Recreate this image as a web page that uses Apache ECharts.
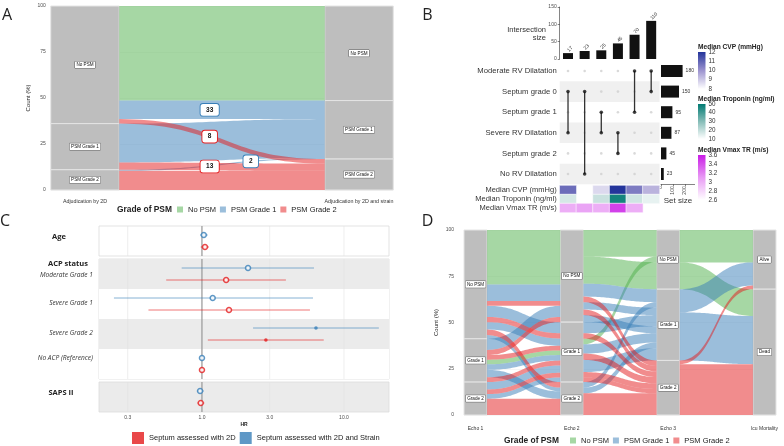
<!DOCTYPE html>
<html><head><meta charset="utf-8"><title>PSM figure</title>
<script src="https://cdn.jsdelivr.net/npm/echarts@6/dist/echarts.min.js"></script>
<style>html,body{margin:0;padding:0;background:#fff;}#chart{width:784px;height:446px;}</style>
</head><body><div id="chart"></div>
<script>
// ===================== DATA =====================
const GRADES = ['No PSM', 'PSM Grade 1', 'PSM Grade 2'];

// ---- Panel A : alluvial, counts per flow ----
const A_AXES = ['Adjudication by 2D', 'Adjudication by 2D and strain'];
const A_STRATA = [['No PSM', 'PSM Grade 1', 'PSM Grade 2'], ['No PSM', 'PSM Grade 1', 'PSM Grade 2']];
const A_FROM = [0, 0, 0, 1, 1, 2, 2];
const A_TO = [0, 1, 2, 1, 2, 1, 2];
const A_COUNT = [168, 33, 8, 69, 13, 2, 34];
const A_GRADE = [0, 1, 2, 1, 2, 1, 2];
const A_LABELLED = [1, 2, 4, 5];

// ---- Panel B : UpSet ----
const B_SETS = ['Moderate RV Dilatation', 'Septum grade 0', 'Septum grade 1', 'Severe RV Dilatation', 'Septum grade 2', 'No RV Dilatation'];
const B_SET_SIZE = [180, 150, 95, 87, 45, 23];
const B_INTER_MEMBERS = [[1, 3], [1, 5], [2, 3], [3, 4], [0, 2], [0, 1]];
const B_INTER_SIZE = [17, 23, 25, 45, 70, 110];
const B_ANNOT_ROWS = ['Median CVP (mmHg)', 'Median Troponin (ng/ml)', 'Median Vmax TR (m/s)'];
const B_CVP = [10.8, null, 8.7, 12.0, 10.5, 9.4];
const B_TROP = [17, null, 19, 47, 18, 14];
const B_VMAX = [3.0, 3.05, 3.0, 3.45, 3.0, null];
const B_CVP_TICKS = [8, 9, 10, 11, 12];
const B_TROP_TICKS = [10, 20, 30, 40, 50];
const B_VMAX_TICKS = [2.6, 2.8, 3.0, 3.2, 3.4, 3.6];
const B_VMAX_TICK_LABELS = ['2.6', '2.8', '3', '3.2', '3.4', '3.6'];

// ---- Panel C : forest plot (hazard ratios) ----
const C_ROWS = ['Age', 'Moderate Grade 1', 'Severe Grade 1', 'Severe Grade 2', 'No ACP (Reference)', 'SAPS II'];
const C_HEADERS = ['Age', 'ACP status', 'SAPS II'];
const C_PANEL = [0, 1, 1, 1, 1, 2];
const C_ROW_IN_PANEL = [0, 0, 1, 2, 3, 0];
const C_HR_2D = [1.05, 1.48, 1.55, 2.82, 1.00, 0.98];
const C_LO_2D = [0.98, 0.56, 0.42, 1.10, 1.00, 0.93];
const C_HI_2D = [1.12, 3.90, 5.76, 7.20, 1.00, 1.04];
const C_HR_ST = [1.03, 2.11, 1.19, 6.35, 1.00, 0.97];
const C_LO_ST = [0.97, 0.72, 0.24, 2.29, 1.00, 0.92];
const C_HI_ST = [1.10, 6.15, 6.05, 17.6, 1.00, 1.03];
const C_SIG = [false, false, false, true, false, false];
const C_TICKS = [0.3, 1, 3, 10];
const C_TICK_LABELS = ['0.3', '1.0', '3.0', '10.0'];
const C_GROUPS = ['Septum assessed with 2D', 'Septum assessed with 2D and Strain'];

// ---- Panel D : alluvial, % per flow ----
const D_AXES = ['Echo 1', 'Echo 2', 'Echo 3', 'Icu Mortality'];
const D_STRATA = [['No PSM', 'Grade 1', 'Grade 2'], ['No PSM', 'Grade 1', 'Grade 2'], ['No PSM', 'Grade 1', 'Grade 2'], ['Alive', 'Dead']];
const D1_FROM = [0, 0, 0, 0, 0, 0, 0, 0, 1, 1, 1, 1, 1, 1, 1, 2, 2, 2, 2];
const D1_TO = [0, 0, 0, 1, 1, 1, 2, 2, 0, 0, 1, 1, 1, 2, 1, 1, 1, 1, 2];
const D1_VAL = [29.4, 9.0, 2.6, 6.0, 2.8, 4.0, 3.0, 2.0, 6.0, 2.8, 2.5, 2.5, 3.0, 4.0, 2.6, 4.0, 2.5, 2.5, 8.8];
const D1_GRADE = [0, 1, 2, 1, 2, 1, 2, 1, 1, 2, 2, 0, 1, 1, 2, 1, 2, 1, 2];
const D2_FROM = [0, 0, 0, 0, 0, 0, 0, 1, 1, 1, 1, 1, 1, 1, 1, 2, 2, 2];
const D2_TO = [0, 0, 1, 2, 1, 2, 1, 1, 2, 0, 1, 2, 1, 2, 2, 1, 1, 2];
const D2_VAL = [14.4, 14.6, 7.0, 3.0, 4.0, 3.0, 3.8, 6.0, 3.0, 3.0, 5.0, 3.4, 6.6, 3.0, 2.4, 3.0, 3.1, 11.7];
const D2_GRADE = [0, 0, 1, 2, 1, 2, 1, 1, 2, 0, 1, 2, 1, 2, 2, 1, 1, 2];
const D2_RIGHT_ORDER = [0, 9, 1, 2, 15, 4, 7, 6, 10, 16, 12, 3, 5, 8, 11, 13, 14, 17];
const D3_FROM = [0, 0, 1, 1, 2, 2];
const D3_TO = [0, 1, 0, 1, 0, 1];
const D3_VAL = [17.5, 14.5, 12.5, 26.0, 2.0, 27.5];
const D3_GRADE = [0, 0, 1, 1, 2, 2];

// ===================== STYLE / LAYOUT =====================
const F = 'Liberation Sans, Arial, sans-serif';
const F2 = 'Open Sans, Liberation Sans, sans-serif';
const SET1 = ['#4daf4a', '#377eb8', '#e41a1c'];
const FILL = ['rgba(77,175,74,0.5)', 'rgba(55,126,184,0.5)', 'rgba(228,26,28,0.5)'];
const A_STRAT_W = 0.25, D_STRAT_W = 0.24;
const A_LABEL_T = [0.44, 0.44, 0.44, 0.64];

const bx = s => 1.5 * s * (1 - s) + s * s * s;
const by = s => 3 * s * s - 2 * s * s * s;
function solveS(t) { let lo = 0, hi = 1; for (let i = 0; i < 40; i++) { const m = (lo + hi) / 2; if (bx(m) < t) lo = m; else hi = m; } return (lo + hi) / 2; }

function alluvial(segs, nStrata) {
  const total = segs[0].val.reduce((a, b) => a + b, 0);
  const K = segs.length + 1;
  const sizes = [];
  for (let k = 0; k < K; k++) {
    const sz = new Array(nStrata[k]).fill(0);
    if (k < K - 1) segs[k].from.forEach((s, i) => sz[s] += segs[k].val[i]);
    else segs[k - 1].to.forEach((s, i) => sz[s] += segs[k - 1].val[i]);
    sizes.push(sz.map(v => v / total * 100));
  }
  const tops = sizes.map(sz => { let c = 100; return sz.map(v => { const t = c; c -= v; return t; }); });
  const flows = [];
  segs.forEach((seg, k) => {
    const n = seg.val.length;
    const pos = seg.val.map(() => ({}));
    const curL = tops[k].slice();
    for (let i = 0; i < n; i++) { const p = seg.val[i] / total * 100; pos[i].t0 = curL[seg.from[i]]; pos[i].b0 = pos[i].t0 - p; curL[seg.from[i]] -= p; }
    const curR = tops[k + 1].slice();
    const order = seg.order || seg.val.map((_, i) => i);
    order.forEach(i => { const p = seg.val[i] / total * 100; pos[i].t1 = curR[seg.to[i]]; pos[i].b1 = pos[i].t1 - p; curR[seg.to[i]] -= p; });
    for (let i = 0; i < n; i++) flows.push({ seg: k, idx: i, grade: seg.grade[i], value: [k, k + 1, pos[i].t0, pos[i].b0, pos[i].t1, pos[i].b1] });
  });
  const strata = [];
  sizes.forEach((sz, k) => sz.forEach((v, s) => strata.push({ k, s, value: [k, tops[k][s] - v, tops[k][s]] })));
  return { flows, strata };
}

function flowSeries(flows, grade, axi, w) {
  return {
    type: 'custom', name: GRADES[grade], xAxisIndex: axi, yAxisIndex: axi, z: 3, silent: true,
    itemStyle: { color: FILL[grade] },
    data: flows.filter(f => f.grade === grade).map(f => f.value),
    renderItem: (params, api) => {
      const x0 = api.value(0) + w / 2, x1 = api.value(1) - w / 2;
      const A = api.coord([x0, api.value(2)]), B = api.coord([x1, api.value(4)]);
      const C = api.coord([x1, api.value(5)]), D = api.coord([x0, api.value(3)]);
      const pts = [], N = 40;
      for (let i = 0; i <= N; i++) { const s = i / N; pts.push([A[0] + (B[0] - A[0]) * bx(s), A[1] + (B[1] - A[1]) * by(s)]); }
      for (let i = N; i >= 0; i--) { const s = i / N; pts.push([D[0] + (C[0] - D[0]) * bx(s), D[1] + (C[1] - D[1]) * by(s)]); }
      return { type: 'polygon', shape: { points: pts }, style: { fill: FILL[grade] } };
    }
  };
}

function strataSeries(strata, names, axi, w) {
  return {
    type: 'custom', xAxisIndex: axi, yAxisIndex: axi, z: 2, silent: true,
    data: strata.map(s => s.value),
    renderItem: (params, api) => {
      const st = strata[params.dataIndex];
      const k = api.value(0), lo = api.value(1), hi = api.value(2);
      const p0 = api.coord([k - w / 2, hi]), p1 = api.coord([k + w / 2, lo]);
      return {
        type: 'group', children: [
          { type: 'rect', shape: { x: p0[0], y: p0[1], width: p1[0] - p0[0], height: p1[1] - p0[1] }, style: { fill: '#bebebe', stroke: '#e4e4e4', lineWidth: 1 } },
          { type: 'text', x: (p0[0] + p1[0]) / 2, y: (p0[1] + p1[1]) / 2, style: { text: names[st.k][st.s], font: '4.6px ' + F, fill: '#111', align: 'center', verticalAlign: 'middle', backgroundColor: '#fff', borderColor: '#444', borderWidth: 0.4, padding: [0.8, 1.5] } }
        ]
      };
    }
  };
}

// ---- build A ----
const aRes = alluvial([{ from: A_FROM, to: A_TO, val: A_COUNT, grade: A_GRADE }], [3, 3]);
const aLabels = A_LABELLED.map((fi, j) => {
  const f = aRes.flows[fi].value;
  const x0 = f[0] + A_STRAT_W / 2, x1 = f[1] - A_STRAT_W / 2;
  const t = A_LABEL_T[j];
  const s = solveS(t);
  const c0 = (f[2] + f[3]) / 2, c1 = (f[4] + f[5]) / 2;
  return [x0 + t * (x1 - x0), c0 + by(s) * (c1 - c0)];
});

// ---- build D ----
const dRes = alluvial([
  { from: D1_FROM, to: D1_TO, val: D1_VAL, grade: D1_GRADE },
  { from: D2_FROM, to: D2_TO, val: D2_VAL, grade: D2_GRADE, order: D2_RIGHT_ORDER },
  { from: D3_FROM, to: D3_TO, val: D3_VAL, grade: D3_GRADE }
], [3, 3, 3, 2]);

// ===================== OPTION =====================
const grids = [
  { left: 50.75, top: 6, width: 342.5, height: 184 },                 // 0 A
  { left: 559.7, top: 7, width: 99.8, height: 52 },                   // 1 B bars
  { left: 559.7, top: 60.7, width: 99.8, height: 123.6 },             // 2 B matrix
  { left: 661, top: 60.7, width: 33.6, height: 123.6 },               // 3 B set size
  { left: 559.7, top: 185.5, width: 99.8, height: 27 },               // 4 B annotation heatmap
  { left: 99, top: 226, width: 290, height: 30, show: true, backgroundColor: '#fff', borderColor: '#dcdcdc', borderWidth: 0.8 },   // 5 C age
  { left: 99, top: 259, width: 290, height: 120, show: true, backgroundColor: '#fff', borderColor: '#dcdcdc', borderWidth: 0.8 },  // 6 C ACP
  { left: 99, top: 382, width: 290, height: 30, show: true, backgroundColor: '#ebebeb', borderColor: '#dcdcdc', borderWidth: 0.8 }, // 7 C SAPS
  { left: 464, top: 230, width: 312, height: 185 }                    // 8 D
];

const tickLbl = { fontSize: 5, color: '#4d4d4d', fontFamily: F };
const hidden = { show: false };
const cols = B_INTER_SIZE.map((_, i) => 'I' + (i + 1));
const CMIN = -0.725, CMAX = 1.317;
const cPanelRows = [1, 4, 1];

const xAxes = [
  { gridIndex: 0, type: 'value', min: -0.125, max: 1.125, axisLine: hidden, axisTick: hidden, splitLine: hidden,
    axisLabel: { customValues: [0, 1], formatter: v => (Math.abs(v - Math.round(v)) < 1e-6 ? (A_AXES[Math.round(v)] || '') : ''), fontSize: 5.3, color: '#333', fontFamily: F, margin: 9 } },
  { gridIndex: 1, type: 'category', data: cols, show: false },
  { gridIndex: 2, type: 'category', data: cols, show: false },
  { gridIndex: 3, type: 'value', min: 0, max: 280, axisLine: { show: true, lineStyle: { color: '#333', width: 0.6 } },
    axisTick: { show: true, length: 2, customValues: [0, 100, 200], lineStyle: { color: '#333', width: 0.6 } }, splitLine: hidden,
    axisLabel: { customValues: [0, 100, 200], rotate: 90, fontSize: 5, color: '#4d4d4d', fontFamily: F, margin: 2 } },
  { gridIndex: 4, type: 'category', data: cols, show: false },
  { gridIndex: 5, type: 'value', min: CMIN, max: CMAX, show: false },
  { gridIndex: 6, type: 'value', min: CMIN, max: CMAX, show: false },
  { gridIndex: 7, type: 'value', min: CMIN, max: CMAX, axisLine: hidden, axisTick: hidden, splitLine: hidden,
    name: 'HR', nameLocation: 'middle', nameGap: 10, nameTextStyle: { fontSize: 5, fontWeight: 'bold', color: '#222', fontFamily: F },
    axisLabel: { customValues: C_TICKS.map(v => Math.log10(v)), formatter: v => { const i = C_TICKS.findIndex(t => Math.abs(Math.log10(t) - v) < 1e-6); return i >= 0 ? C_TICK_LABELS[i] : ''; }, fontSize: 5, color: '#4d4d4d', fontFamily: F, margin: 3 } },
  { gridIndex: 8, type: 'value', min: -0.12, max: 3.12, axisLine: hidden, axisTick: hidden, splitLine: hidden,
    axisLabel: { customValues: [0, 1, 2, 3], formatter: v => (Math.abs(v - Math.round(v)) < 1e-6 ? (D_AXES[Math.round(v)] || '') : ''), fontSize: 5, color: '#333', fontFamily: F, margin: 11 } }
];

const yAxes = [
  { gridIndex: 0, type: 'value', min: 0, max: 100, interval: 25, axisLine: hidden, axisTick: hidden,
    splitLine: { lineStyle: { color: '#ececec', width: 0.5 } }, axisLabel: Object.assign({ margin: 5 }, tickLbl),
    name: 'Count (%)', nameLocation: 'middle', nameGap: 19, nameTextStyle: { fontSize: 6, color: '#222', fontFamily: F } },
  { gridIndex: 1, type: 'value', min: 0, max: 150, interval: 50, axisLine: { show: true, lineStyle: { color: '#333', width: 0.6 } },
    axisTick: { show: true, length: 2, lineStyle: { color: '#333', width: 0.6 } }, splitLine: hidden, axisLabel: Object.assign({ margin: 3 }, tickLbl) },
  { gridIndex: 2, type: 'category', data: B_SETS, inverse: true, axisLine: hidden, axisTick: hidden,
    splitArea: { show: true, areaStyle: { color: ['#ffffff', '#f0f0f0'] } },
    axisLabel: { interval: 0, fontSize: 7.7, color: '#333', fontFamily: F, margin: 3 } },
  { gridIndex: 3, type: 'category', data: B_SETS, inverse: true, show: false },
  { gridIndex: 4, type: 'category', data: B_ANNOT_ROWS, inverse: true, axisLine: hidden, axisTick: hidden,
    axisLabel: { interval: 0, fontSize: 7.5, color: '#333', fontFamily: F, margin: 3 } },
  { gridIndex: 5, type: 'value', inverse: true, min: 0, max: cPanelRows[0], show: false },
  { gridIndex: 6, type: 'value', inverse: true, min: 0, max: cPanelRows[1], interval: 1, axisLine: hidden, axisTick: hidden, axisLabel: hidden, splitLine: hidden,
    splitArea: { show: true, areaStyle: { color: ['#ebebeb', '#ffffff'] } } },
  { gridIndex: 7, type: 'value', inverse: true, min: 0, max: cPanelRows[2], show: false },
  { gridIndex: 8, type: 'value', min: 0, max: 100, interval: 25, axisLine: hidden, axisTick: hidden,
    splitLine: { lineStyle: { color: '#ececec', width: 0.5 } }, axisLabel: Object.assign({ margin: 10 }, tickLbl),
    name: 'Count (%)', nameLocation: 'middle', nameGap: 25, nameTextStyle: { fontSize: 6, color: '#222', fontFamily: F } }
];

const series = [];
// ---- A ----
series.push(strataSeries(aRes.strata, A_STRATA, 0, A_STRAT_W));
[0, 1, 2].forEach(g => series.push(flowSeries(aRes.flows, g, 0, A_STRAT_W)));
series.push({
  type: 'custom', xAxisIndex: 0, yAxisIndex: 0, z: 6, silent: true, data: aLabels,
  renderItem: (params, api) => {
    const fi = A_LABELLED[params.dataIndex];
    const p = api.coord([api.value(0), api.value(1)]);
    return { type: 'text', x: p[0], y: p[1], style: { text: String(A_COUNT[fi]), font: 'bold 6.5px ' + F, fill: '#111', align: 'center', verticalAlign: 'middle',
      backgroundColor: '#fff', borderColor: SET1[A_GRADE[fi]], borderWidth: 0.9, borderRadius: 2.5, padding: [2.6, 5.5, 2.2, 5.5] } };
  }
});

// ---- B ----
series.push({ type: 'bar', xAxisIndex: 1, yAxisIndex: 1, data: B_INTER_SIZE, barWidth: 10, itemStyle: { color: '#111' }, silent: true,
  label: { show: true, position: 'top', rotate: 45, align: 'left', verticalAlign: 'middle', distance: 2, fontSize: 5, color: '#333', fontFamily: F } });
const memberSet = B_INTER_MEMBERS.map(m => new Set(m));
const emptyDots = [], fullDots = [];
B_INTER_SIZE.forEach((_, c) => B_SETS.forEach((_, r) => (memberSet[c].has(r) ? fullDots : emptyDots).push([c, r])));
series.push({ type: 'scatter', xAxisIndex: 2, yAxisIndex: 2, data: emptyDots, symbolSize: 2.6, itemStyle: { color: '#d0d0d0' }, silent: true });
series.push({ type: 'custom', xAxisIndex: 2, yAxisIndex: 2, silent: true, z: 3,
  data: B_INTER_MEMBERS.map((m, c) => [c, Math.min(...m), Math.max(...m)]),
  renderItem: (params, api) => { const a = api.coord([api.value(0), api.value(1)]), b = api.coord([api.value(0), api.value(2)]);
    return { type: 'line', shape: { x1: a[0], y1: a[1], x2: b[0], y2: b[1] }, style: { stroke: '#333', lineWidth: 1.3 } }; } });
series.push({ type: 'scatter', xAxisIndex: 2, yAxisIndex: 2, data: fullDots, symbolSize: 3.6, itemStyle: { color: '#111' }, silent: true, z: 4 });
series.push({ type: 'bar', xAxisIndex: 3, yAxisIndex: 3, data: B_SET_SIZE, barWidth: 12, itemStyle: { color: '#111' }, silent: true,
  label: { show: true, position: 'right', distance: 3, fontSize: 5, color: '#333', fontFamily: F } });
const heatIdx = [];
[B_CVP, B_TROP, B_VMAX].forEach((arr, r) => {
  heatIdx.push(series.length);
  series.push({ type: 'heatmap', xAxisIndex: 4, yAxisIndex: 4, silent: true,
    data: arr.map((v, c) => (v == null ? null : [c, r, v])).filter(d => d),
    itemStyle: { borderColor: '#fff', borderWidth: 0.6 } });
});

// ---- C ----
const cColor = [SET1[2], SET1[1]];
const cLine = ['rgba(228,26,28,0.6)', 'rgba(55,126,184,0.6)'];
const cData = [[C_HR_2D, C_LO_2D, C_HI_2D], [C_HR_ST, C_LO_ST, C_HI_ST]];
const cOffset = [0.2, -0.2];
[0, 1, 2].forEach(p => {
  const ax = 5 + p;
  series.push({ type: 'custom', xAxisIndex: ax, yAxisIndex: ax, z: 1, silent: true,
    data: C_TICKS.map((t, i) => [Math.log10(t), i]),
    renderItem: (params, api) => { const a = api.coord([api.value(0), 0]), b = api.coord([api.value(0), cPanelRows[p]]);
      return { type: 'line', shape: { x1: a[0], y1: a[1], x2: b[0], y2: b[1] }, style: { stroke: '#e2e2e2', lineWidth: 0.6 } }; } });
  series.push({ type: 'custom', xAxisIndex: ax, yAxisIndex: ax, z: 2, silent: true, data: [[0]],
    renderItem: (params, api) => { const a = api.coord([api.value(0), 0]), b = api.coord([api.value(0), cPanelRows[p]]);
      return { type: 'line', shape: { x1: a[0], y1: a[1], x2: b[0], y2: b[1] }, style: { stroke: '#8a8a8a', lineWidth: 1 } }; } });
  [1, 0].forEach(g => {
    const rows = C_ROWS.map((_, i) => i).filter(i => C_PANEL[i] === p);
    const [hr, lo, hi] = cData[g];
    series.push({ type: 'custom', xAxisIndex: ax, yAxisIndex: ax, z: 3, silent: true,
      data: rows.map(i => [Math.log10(lo[i]), Math.log10(hi[i]), C_ROW_IN_PANEL[i] + 0.5 + cOffset[g]]),
      renderItem: (params, api) => { const a = api.coord([api.value(0), api.value(2)]), b = api.coord([api.value(1), api.value(2)]);
        return { type: 'line', shape: { x1: a[0], y1: a[1], x2: b[0], y2: b[1] }, style: { stroke: cLine[g], lineWidth: 1 } }; } });
    series.push({ type: 'scatter', name: C_GROUPS[g], xAxisIndex: ax, yAxisIndex: ax, z: 4, silent: true,
      itemStyle: { color: cColor[g] },
      data: rows.map(i => ({ value: [Math.log10(hr[i]), C_ROW_IN_PANEL[i] + 0.5 + cOffset[g]],
        symbolSize: C_SIG[i] ? 3.6 : 5,
        itemStyle: C_SIG[i] ? { color: cColor[g], borderWidth: 0 } : { color: '#fff', borderColor: cColor[g], borderWidth: 1.5 } })) });
  });
});

// ---- D ----
series.push(strataSeries(dRes.strata, D_STRATA, 8, D_STRAT_W));
[0, 1, 2].forEach(g => series.push(flowSeries(dRes.flows, g, 8, D_STRAT_W)));

// ---- B colour scales ----
const scales = [
  { title: 'Median CVP (mmHg)', top: 52, bottom: 89, min: 8, max: 12, ticks: B_CVP_TICKS, labels: B_CVP_TICKS.map(String), colors: ['#ffffff', '#9c93cf', '#24359b'] },
  { title: 'Median Troponin (ng/ml)', top: 104, bottom: 139, min: 10, max: 50, ticks: B_TROP_TICKS, labels: B_TROP_TICKS.map(String), colors: ['#ffffff', '#86bdb8', '#007a72'] },
  { title: 'Median Vmax TR (m/s)', top: 155, bottom: 200, min: 2.6, max: 3.6, ticks: B_VMAX_TICKS, labels: B_VMAX_TICK_LABELS, colors: ['#ffffff', '#e89af4', '#c91be6'] }
];
const visualMaps = scales.map((sc, i) => ({ type: 'continuous', show: false, seriesIndex: heatIdx[i], dimension: 2, min: sc.min, max: sc.max, inRange: { color: sc.colors } }));

const txt = (text, x, y, font, align, vAlign, fill) => ({ type: 'text', x, y, silent: true,
  style: { text, font, fill: fill || '#222', align: align || 'left', verticalAlign: vAlign || 'middle', textAlign: align || 'left', textVerticalAlign: vAlign || 'middle' } });
const graphics = [];
graphics.push(txt('A', 7, 15, '16px ' + F2, 'center'));
graphics.push(txt('B', 427.5, 15, '16px ' + F2, 'center'));
graphics.push(txt('C', 5, 221, '16px ' + F2, 'center'));
graphics.push(txt('D', 427.5, 221, '16px ' + F2, 'center'));
graphics.push(txt('Grade of PSM', 117, 209.5, 'bold 8.4px ' + F));
graphics.push(txt('Grade of PSM', 504, 440.5, 'bold 8.4px ' + F));
graphics.push(txt('Intersection', 546, 30, '7.5px ' + F, 'right', 'middle', '#333'));
graphics.push(txt('size', 546, 38, '7.5px ' + F, 'right', 'middle', '#333'));
graphics.push(txt('Set size', 678, 201, '8px ' + F, 'center', 'middle', '#333'));
scales.forEach(sc => {
  graphics.push(txt(sc.title, 698, sc.top - 4.5, 'bold 6.6px ' + F));
  graphics.push({ type: 'rect', silent: true, shape: { x: 698, y: sc.top, width: 7.5, height: sc.bottom - sc.top },
    style: { fill: { type: 'linear', x: 0, y: 0, x2: 0, y2: 1, colorStops: sc.colors.slice().reverse().map((c, i, a) => ({ offset: i / (a.length - 1), color: c })) } } });
  sc.ticks.forEach((t, i) => {
    const y = sc.bottom - (t - sc.min) / (sc.max - sc.min) * (sc.bottom - sc.top);
    graphics.push(txt(sc.labels[i], 708.5, y, '6.3px ' + F, 'left', 'middle', '#333'));
  });
});
// C row labels
const cHeaderPos = [[59, 237], [68, 264], [61, 393]];
C_HEADERS.forEach((h, i) => graphics.push(txt(h, cHeaderPos[i][0], cHeaderPos[i][1], 'bold 7.5px ' + F2, 'center')));
const cItalicY = [275, 303, 333, 358];
C_ROWS.slice(1, 5).forEach((r, i) => graphics.push(txt(r, 93, cItalicY[i], 'italic 6.6px ' + F2, 'right', 'middle', '#333')));

const legendText = { fontSize: 7.5, color: '#222', fontFamily: F };
const option = {
  animation: false,
  backgroundColor: '#ffffff',
  grid: grids,
  xAxis: xAxes,
  yAxis: yAxes,
  visualMap: visualMaps,
  legend: [
    { left: 177, top: 205.5, padding: 0, itemWidth: 6, itemHeight: 6, itemGap: 4, textStyle: legendText, selectedMode: false,
      data: GRADES.map((g, i) => ({ name: g, icon: 'rect', itemStyle: { color: FILL[i], borderWidth: 0 } })) },
    { left: 570, top: 436.5, padding: 0, itemWidth: 6, itemHeight: 6, itemGap: 4, textStyle: legendText, selectedMode: false,
      data: GRADES.map((g, i) => ({ name: g, icon: 'rect', itemStyle: { color: FILL[i], borderWidth: 0 } })) },
    { left: 132, top: 432, padding: 0, itemWidth: 12, itemHeight: 12, itemGap: 4, textStyle: legendText, selectedMode: false,
      data: C_GROUPS.map((g, i) => ({ name: g, icon: 'rect', itemStyle: { color: cColor[i], borderWidth: 0 } })) }
  ],
  graphic: graphics,
  series
};
const chart = echarts.init(document.getElementById('chart'), null, { renderer: 'canvas' });
chart.setOption(option);
</script></body></html>
